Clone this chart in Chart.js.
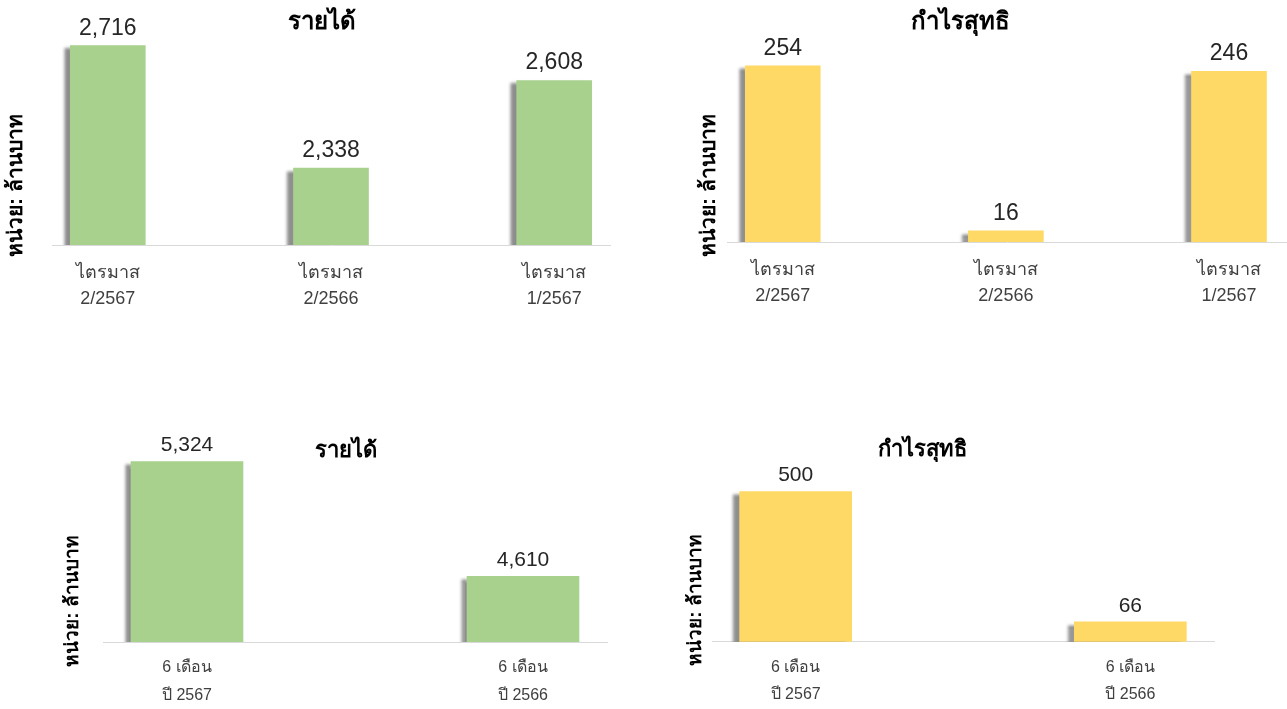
<!DOCTYPE html>
<html>
<head>
<meta charset="utf-8">
<script src="https://cdn.jsdelivr.net/npm/chart.js@4.4.1/dist/chart.umd.min.js"></script>
<style>
  html, body { margin: 0; background: #fff; overflow: hidden; }
  #wrap { position: relative; width: 1287px; height: 709px; overflow: hidden; }
  #wrap canvas { position: absolute; }
</style>
</head>
<body>
<div id="wrap">
  <canvas id="qRevenue"></canvas>
  <canvas id="qProfit"></canvas>
  <canvas id="hRevenue"></canvas>
  <canvas id="hProfit"></canvas>
</div>
<script>
// data
const quarterLabels = [['ไตรมาส', '2/2567'], ['ไตรมาส', '2/2566'], ['ไตรมาส', '1/2567']];
const quarterRevenue = [2716, 2338, 2608];
const quarterProfit = [254, 16, 246];

const halfLabels = [['6 เดือน', 'ปี 2567'], ['6 เดือน', 'ปี 2566']];
const halfRevenue = [5324, 4610];
const halfProfit = [500, 66];

const titleRevenue = 'รายได้';
const titleProfit = 'กำไรสุทธิ';
const unitLabel = 'หน่วย: ล้านบาท';

const FONT = '"Liberation Sans", "DejaVu Sans", "Noto Sans", sans-serif';
const GREEN = '#a9d18e';
const YELLOW = '#ffd966';

// soft shadow on the left side of each bar
const barShadow = {
  id: 'barShadow',
  beforeDatasetsDraw(chart) {
    const ctx = chart.ctx;
    ctx.save();
    ctx.shadowColor = 'rgba(0, 0, 0, 0.45)';
    ctx.shadowBlur = 3;
    ctx.shadowOffsetX = -6;
    ctx.shadowOffsetY = 3;
  },
  afterDatasetsDraw(chart) {
    chart.ctx.restore();
  },
};

// numbers above the bars
const valueLabels = {
  id: 'valueLabels',
  afterDatasetsDraw(chart, args, opts) {
    const ctx = chart.ctx;
    const ds = chart.data.datasets[0];
    chart.getDatasetMeta(0).data.forEach((bar, i) => {
      ctx.save();
      ctx.font = opts.size + 'px ' + FONT;
      ctx.fillStyle = '#262626';
      ctx.textAlign = 'center';
      ctx.textBaseline = 'bottom';
      ctx.fillText(ds.data[i].y.toLocaleString('en-US'), bar.x, bar.y - opts.gap);
      ctx.restore();
    });
  },
};

function makePanel(id, p) {
  const el = document.getElementById(id);
  const [left, top, w, h] = p.box;
  el.width = w; el.height = h;
  el.style.left = left + 'px'; el.style.top = top + 'px';
  el.style.width = w + 'px'; el.style.height = h + 'px';

  return new Chart(el, {
    type: 'bar',
    data: {
      datasets: [{
        data: p.values.map((v, i) => ({ x: i, y: v })),
        backgroundColor: p.color,
        barThickness: p.barWidth,
      }],
    },
    options: {
      responsive: false,
      animation: false,
      devicePixelRatio: 1,
      layout: { padding: 0 },
      plugins: {
        legend: { display: false },
        tooltip: { enabled: false },
        title: {
          display: true,
          text: p.title,
          color: '#000',
          font: { family: FONT, size: p.titleSize, weight: 'bold' },
          padding: p.titlePad,
        },
        subtitle: {
          display: true,
          position: 'left',
          text: unitLabel,
          color: '#000',
          font: { family: FONT, size: p.unitSize, weight: 'bold' },
          padding: p.unitPad,
        },
        valueLabels: { size: p.valueSize, gap: p.valueGap },
      },
      scales: {
        x: {
          type: 'linear',
          offset: false,
          min: p.xMin,
          max: p.xMax,
          grid: { display: false, drawTicks: false, offset: false },
          border: { color: '#d9d9d9', width: 1 },
          ticks: {
            stepSize: 1,
            includeBounds: false,
            maxRotation: 0,
            autoSkip: false,
            padding: p.tickPad,
            color: '#404040',
            font: { family: FONT, size: p.tickSize, lineHeight: p.tickLine },
            callback: (v) => p.labels[v] || '',
          },
          afterFit: (s) => { s.height = p.xAxisH; },
        },
        y: {
          position: 'right',
          min: p.yMin,
          max: p.yMax,
          grid: { display: false, drawTicks: false },
          border: { display: false },
          ticks: { display: false },
          afterFit: (s) => { s.width = p.spacer; },
        },
      },
    },
    plugins: [barShadow, valueLabels],
  });
}

makePanel('qRevenue', {
  box: [0, 0, 644, 371],
  title: titleRevenue, titleSize: 24, titlePad: { top: 7.6, bottom: -1.7 },
  unitSize: 21, unitPad: { top: 4, bottom: 22.8 },
  values: quarterRevenue, labels: quarterLabels, color: GREEN, barWidth: 75,
  xMin: -0.25, xMax: 2.25, yMin: 2100, yMax: 2750,
  spacer: 34, xAxisH: 126, tickPad: 15, tickSize: 18, tickLine: 1.45,
  valueSize: 23, valueGap: 6,
});

makePanel('qProfit', {
  box: [630, 0, 660, 371],
  title: titleProfit, titleSize: 24, titlePad: { top: 8.1, bottom: 10.8 },
  unitSize: 21, unitPad: { top: 67, bottom: 4.8 },
  values: quarterProfit, labels: quarterLabels, color: YELLOW, barWidth: 75,
  xMin: -0.25, xMax: 2.26, yMin: 0, yMax: 280,
  spacer: 3, xAxisH: 129, tickPad: 15, tickSize: 18, tickLine: 1.45,
  valueSize: 23, valueGap: 6,
});

makePanel('hRevenue', {
  box: [0, 400, 692, 402],
  title: titleRevenue, titleSize: 22, titlePad: { top: 37.8, bottom: -14.7 },
  unitSize: 19, unitPad: { top: 61, bottom: 19.2 },
  values: halfRevenue, labels: halfLabels, color: GREEN, barWidth: 112,
  xMin: -0.25, xMax: 1.25, yMin: 4200, yMax: 5400,
  spacer: 85, xAxisH: 160, tickPad: 12.4, tickSize: 16, tickLine: 1.7,
  valueSize: 21, valueGap: 5.5,
});

makePanel('hProfit', {
  box: [630, 400, 585, 400],
  title: titleProfit, titleSize: 22, titlePad: { top: 36.8, bottom: 22.5 },
  unitSize: 19, unitPad: { top: 54, bottom: 5.2 },
  values: halfProfit, labels: halfLabels, color: YELLOW, barWidth: 112,
  xMin: -0.25, xMax: 1.25, yMin: 0, yMax: 520,
  spacer: 1, xAxisH: 158.3, tickPad: 12.4, tickSize: 16, tickLine: 1.7,
  valueSize: 21, valueGap: 5.5,
});
</script>
</body>
</html>
